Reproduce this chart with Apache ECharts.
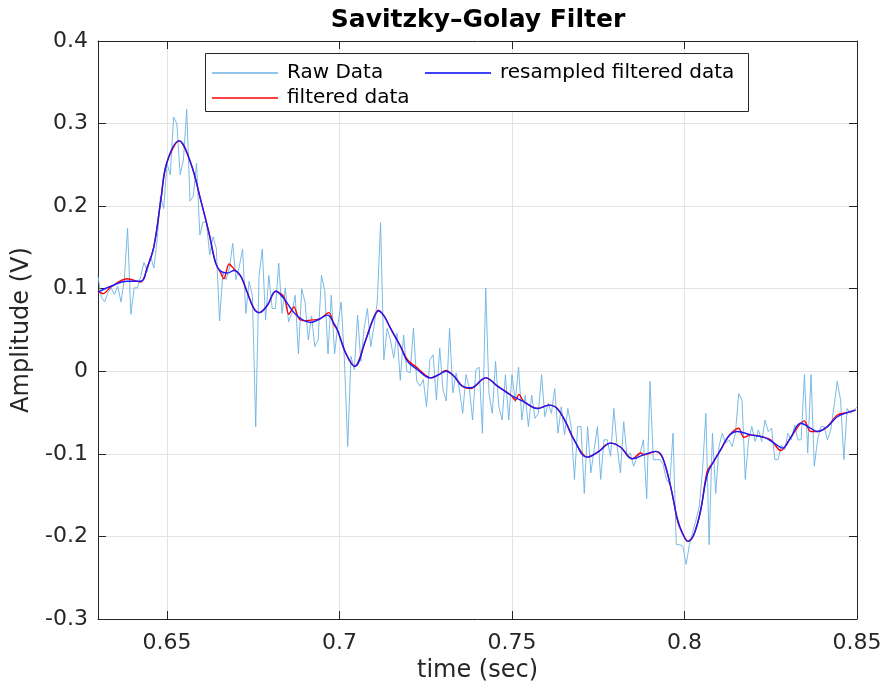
<!DOCTYPE html>
<html>
<head>
<meta charset="utf-8">
<script src="https://cdn.jsdelivr.net/npm/echarts@6/dist/echarts.min.js"></script>
<style>
  html, body { margin: 0; padding: 0; background: #ffffff; }
  #chart { width: 886px; height: 688px; }
</style>
</head>
<body>
<div id="chart"></div>
<script>
// Time window of the plot (seconds)
const tStart = 0.63;
const tEnd = 0.85;

// Raw samples, evenly spaced from tStart to tEnd
const rawAmp = [
  0.115, 0.090, 0.084, 0.095, 0.101, 0.093, 0.103, 0.084, 0.111, 0.173,
  0.069, 0.101, 0.101, 0.115, 0.132, 0.121, 0.139, 0.125, 0.159, 0.212,
  0.197, 0.252, 0.238, 0.308, 0.300, 0.238, 0.256, 0.317, 0.206, 0.212,
  0.252, 0.165, 0.181, 0.180, 0.141, 0.163, 0.149, 0.061, 0.119, 0.111,
  0.125, 0.155, 0.111, 0.127, 0.148, 0.070, 0.109, 0.091, -0.067, 0.115,
  0.148, 0.062, 0.116, 0.076, 0.076, 0.131, 0.070, 0.101, 0.060,
  0.070, 0.092, 0.021, 0.100, 0.084, 0.038, 0.067, 0.030, 0.038, 0.116,
  0.098, 0.021, 0.092, 0.021, 0.056, 0.084, 0.014, -0.091, 0.018, 0.002,
  0.068, 0.012, 0.052, 0.076, 0.030, 0.054, 0.084, 0.180, 0.014, 0.052,
  0.038, 0.016, 0.046, -0.011, 0.044, 0.000, -0.002, 0.052, -0.012, -0.018,
  -0.010, -0.043, 0.014, 0.020, -0.035, 0.028, -0.022, -0.036, 0.052, -0.026,
  -0.002, -0.022, -0.051, -0.004, -0.020, -0.059, 0.002,
  0.005, -0.075, 0.101, -0.027, -0.051, 0.012, -0.043, -0.059, -0.004, -0.059,
  -0.004, -0.037, 0.005, -0.059, -0.029, -0.067, -0.029, -0.057, -0.051, -0.004,
  -0.055, -0.039, -0.051, -0.021, -0.075, -0.043, -0.077, -0.045, -0.067, -0.131,
  -0.067, -0.067, -0.148, -0.067, -0.123, -0.095, -0.067, -0.131, -0.083, -0.083,
  -0.103, -0.045, -0.091, -0.123, -0.061, -0.103, -0.099, -0.115, -0.105, -0.099,
  -0.083, -0.154, -0.012, -0.107, -0.107, -0.107, -0.113, -0.131, -0.137,
  -0.075, -0.210, -0.210, -0.212, -0.234, -0.210, -0.195, -0.180, -0.164, -0.119,
  -0.051, -0.210, -0.075, -0.148, -0.091, -0.075, -0.087, -0.083, -0.091, -0.075,
  -0.027, -0.035, -0.131, -0.083, -0.067, -0.085, -0.071, -0.085, -0.059, -0.073,
  -0.069, -0.107, -0.107, -0.089, -0.095, -0.075, -0.083, -0.065, -0.083, -0.083,
  -0.004, -0.099, -0.004, -0.115, -0.083, -0.067, -0.067, -0.083, -0.071, -0.043,
  -0.012, -0.035, -0.107, -0.045, -0.051, -0.047, -0.043
];

// Savitzky–Golay filtered output
const filtTime = [
  0.6300, 0.6315, 0.6337, 0.6384, 0.6424, 0.6443, 0.6462, 0.6482, 0.6499, 0.6535,
  0.6569, 0.6598, 0.6622, 0.6641, 0.6656, 0.6665, 0.6680, 0.6694, 0.6714, 0.6733,
  0.6752, 0.6767, 0.6791, 0.6815, 0.6839, 0.6853, 0.6868, 0.6882, 0.6900, 0.6916,
  0.6941, 0.6969, 0.6984, 0.6994, 0.7018, 0.7044, 0.7076, 0.7095, 0.7113, 0.7129,
  0.7148, 0.7177, 0.7197, 0.7226, 0.7264, 0.7288, 0.7308, 0.7332, 0.7356, 0.7380,
  0.7424, 0.7458, 0.7497, 0.7510, 0.7520, 0.7535, 0.7574, 0.7607, 0.7631, 0.7655,
  0.7680, 0.7718, 0.7752, 0.7772, 0.7786, 0.7815, 0.7849, 0.7873, 0.7883, 0.7917,
  0.7936, 0.7960, 0.7979, 0.7985, 0.7994, 0.8010, 0.8027, 0.8047, 0.8066, 0.8085,
  0.8105, 0.8129, 0.8157, 0.8172, 0.8192, 0.8231, 0.8250, 0.8279, 0.8308, 0.8347,
  0.8366, 0.8385, 0.8414, 0.8443, 0.8472, 0.8496
];
const filtAmp = [
  0.097, 0.094, 0.102, 0.112, 0.108, 0.126, 0.151, 0.207, 0.252, 0.279,
  0.252, 0.207, 0.167, 0.131, 0.119, 0.112, 0.130, 0.124, 0.115, 0.095,
  0.076, 0.071, 0.080, 0.097, 0.090, 0.069, 0.078, 0.064, 0.061, 0.062,
  0.063, 0.071, 0.056, 0.050, 0.022, 0.006, 0.038, 0.061, 0.074, 0.067,
  0.052, 0.030, 0.014, 0.004, -0.008, -0.004, 0.001, -0.006, -0.018, -0.021,
  -0.008, -0.018, -0.029, -0.035, -0.028, -0.037, -0.045, -0.041, -0.045, -0.061,
  -0.083, -0.104, -0.097, -0.089, -0.087, -0.092, -0.106, -0.099, -0.101, -0.097,
  -0.104, -0.140, -0.180, -0.188, -0.196, -0.206, -0.198, -0.168, -0.121, -0.109,
  -0.095, -0.078, -0.069, -0.080, -0.077, -0.080, -0.083, -0.096, -0.080, -0.060,
  -0.073, -0.073, -0.067, -0.053, -0.050, -0.047
];

// Filtered output resampled onto a finer time grid
const resampTime = [
  0.6300, 0.6337, 0.6384, 0.6424, 0.6443, 0.6462, 0.6482, 0.6499, 0.6535, 0.6569,
  0.6598, 0.6622, 0.6641, 0.6656, 0.6675, 0.6694, 0.6714, 0.6733, 0.6752, 0.6767,
  0.6791, 0.6815, 0.6839, 0.6868, 0.6891, 0.6916, 0.6941, 0.6965, 0.6984, 0.6994,
  0.7018, 0.7044, 0.7076, 0.7095, 0.7113, 0.7129, 0.7148, 0.7177, 0.7197, 0.7226,
  0.7264, 0.7288, 0.7308, 0.7332, 0.7356, 0.7380, 0.7424, 0.7458, 0.7497, 0.7535,
  0.7574, 0.7607, 0.7631, 0.7655, 0.7680, 0.7718, 0.7752, 0.7786, 0.7815, 0.7849,
  0.7883, 0.7917, 0.7936, 0.7960, 0.7979, 0.7994, 0.8010, 0.8027, 0.8047, 0.8066,
  0.8085, 0.8105, 0.8129, 0.8153, 0.8192, 0.8231, 0.8260, 0.8284, 0.8308, 0.8337,
  0.8366, 0.8385, 0.8414, 0.8443, 0.8472, 0.8496
];
const resampAmp = [
  0.096, 0.103, 0.109, 0.109, 0.126, 0.151, 0.207, 0.252, 0.279, 0.252,
  0.207, 0.167, 0.131, 0.121, 0.119, 0.122, 0.115, 0.095, 0.076, 0.071,
  0.080, 0.097, 0.088, 0.071, 0.063, 0.059, 0.063, 0.068, 0.058, 0.050,
  0.022, 0.006, 0.038, 0.060, 0.073, 0.067, 0.052, 0.030, 0.012, 0.002,
  -0.008, -0.004, 0.000, -0.006, -0.018, -0.020, -0.008, -0.018, -0.029, -0.037,
  -0.045, -0.041, -0.045, -0.061, -0.083, -0.104, -0.097, -0.087, -0.092, -0.106,
  -0.101, -0.097, -0.104, -0.140, -0.178, -0.196, -0.206, -0.198, -0.168, -0.125,
  -0.109, -0.095, -0.078, -0.073, -0.077, -0.080, -0.087, -0.093, -0.080, -0.063,
  -0.069, -0.073, -0.067, -0.055, -0.050, -0.047
];

// Axis ticks
const xTicks = [0.65, 0.7, 0.75, 0.8, 0.85];
const yMin = -0.3, yMax = 0.4, yStep = 0.1;

const rawStep = (tEnd - tStart) / (rawAmp.length - 1);
const rawPts = rawAmp.map((v, i) => [tStart + i * rawStep, v]);
const filtPts = filtTime.map((t, i) => [t, filtAmp[i]]);
const resampPts = resampTime.map((t, i) => [t, resampAmp[i]]);

const FONT = 'DejaVu Sans';
const AX = '#262626';
const GRID = { left: 98, right: 29, top: 41, bottom: 69 };

const chart = echarts.init(document.getElementById('chart'), null, { renderer: 'canvas' });

chart.setOption({
  animation: false,
  backgroundColor: '#ffffff',
  title: {
    text: 'Savitzky\u2013Golay Filter',
    left: 478,
    textAlign: 'center',
    top: 8,
    padding: 0,
    textStyle: { fontFamily: FONT, fontSize: 25, fontWeight: 'bold', color: '#000000' }
  },
  grid: GRID,
  xAxis: [
    {
      type: 'value', min: tStart, max: tEnd, position: 'bottom',
      name: 'time (sec)', nameLocation: 'middle', nameGap: 36,
      nameTextStyle: { fontFamily: FONT, fontSize: 24, color: AX },
      axisLine: { show: true, onZero: false, lineStyle: { color: AX, width: 1 } },
      axisTick: { show: true, inside: true, length: 8, customValues: xTicks, lineStyle: { color: AX } },
      axisLabel: {
        customValues: xTicks, margin: 13,
        fontFamily: FONT, fontSize: 22, color: AX,
        formatter: v => String(+v.toFixed(2))
      },
      splitLine: { show: true, lineStyle: { color: '#e3e3e3', width: 1 } }
    },
    {
      type: 'value', min: tStart, max: tEnd, position: 'top',
      axisLine: { show: true, onZero: false, lineStyle: { color: AX, width: 1 } },
      axisTick: { show: true, inside: true, length: 8, customValues: xTicks, lineStyle: { color: AX } },
      axisLabel: { show: false, customValues: xTicks },
      splitLine: { show: false }
    }
  ],
  yAxis: [
    {
      type: 'value', min: yMin, max: yMax, interval: yStep, position: 'left',
      name: 'Amplitude (V)', nameLocation: 'middle', nameGap: 60,
      nameTextStyle: { fontFamily: FONT, fontSize: 24, color: AX },
      axisLine: { show: true, onZero: false, lineStyle: { color: AX, width: 1 } },
      axisTick: { show: true, inside: true, length: 8, lineStyle: { color: AX } },
      axisLabel: {
        margin: 10, fontFamily: FONT, fontSize: 22, color: AX,
        formatter: v => (Math.abs(v) < 1e-9 ? '0' : String(+v.toFixed(1)))
      },
      splitLine: { show: true, lineStyle: { color: '#e3e3e3', width: 1 } }
    },
    {
      type: 'value', min: yMin, max: yMax, interval: yStep, position: 'right',
      axisLine: { show: true, onZero: false, lineStyle: { color: AX, width: 1 } },
      axisTick: { show: true, inside: true, length: 8, lineStyle: { color: AX } },
      axisLabel: { show: false },
      splitLine: { show: false }
    }
  ],
  legend: [
    {
      data: ['Raw Data', 'filtered data'],
      orient: 'vertical', left: 212, top: 63, itemGap: 5,
      icon: 'rect', itemWidth: 66, itemHeight: 1.5,
      padding: 0, z: 20,
      textStyle: { fontFamily: FONT, fontSize: 20, color: '#000000', padding: [0, 0, 0, 4] }
    },
    {
      data: ['resampled filtered data'],
      orient: 'vertical', left: 425, top: 63,
      icon: 'rect', itemWidth: 66, itemHeight: 1.5,
      padding: 0, z: 20,
      textStyle: { fontFamily: FONT, fontSize: 20, color: '#000000', padding: [0, 0, 0, 4] }
    }
  ],
  graphic: [
    {
      type: 'rect', z: 10,
      shape: { x: 205.5, y: 53.5, width: 543, height: 58 },
      style: { fill: '#ffffff', stroke: AX, lineWidth: 1 }
    }
  ],
  series: [
    {
      name: 'Raw Data', type: 'line', data: rawPts,
      showSymbol: false, symbol: 'none',
      color: '#6cb3e3',
      lineStyle: { color: '#6cb3e3', width: 1, opacity: 0.9 },
      z: 2
    },
    {
      name: 'filtered data', type: 'line', data: filtPts,
      showSymbol: false, symbol: 'none', smooth: 0.3,
      color: '#ff0000',
      lineStyle: { color: '#ff0000', width: 1.4 },
      z: 3
    },
    {
      name: 'resampled filtered data', type: 'line', data: resampPts,
      showSymbol: false, symbol: 'none', smooth: 0.4,
      color: '#0000ff',
      lineStyle: { color: '#1a1aff', width: 1.4 },
      z: 4
    }
  ]
});
</script>
</body>
</html>
